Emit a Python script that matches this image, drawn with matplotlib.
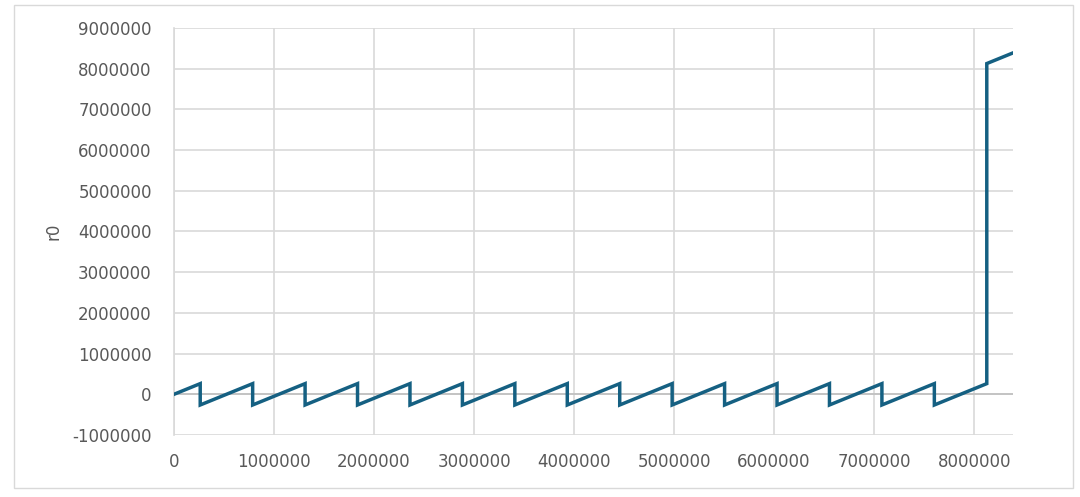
import matplotlib
matplotlib.use('Agg')
import matplotlib.pyplot as plt
from matplotlib.patches import Rectangle

# breakpoints of the r0 curve (x, r0)
x_vals = [0, 262144, 262144, 786432, 786432, 1310720, 1310720, 1835008, 1835008,
          2359296, 2359296, 2883584, 2883584, 3407872, 3407872, 3932160, 3932160,
          4456448, 4456448, 4980736, 4980736, 5505024, 5505024, 6029312, 6029312,
          6553600, 6553600, 7077888, 7077888, 7602176, 7602176, 8126464, 8126464,
          8388608]
r0_vals = [0, 262144, -262144, 262144, -262144, 262144, -262144, 262144, -262144,
           262144, -262144, 262144, -262144, 262144, -262144, 262144, -262144,
           262144, -262144, 262144, -262144, 262144, -262144, 262144, -262144,
           262144, -262144, 262144, -262144, 262144, -262144, 262144, 8126464,
           8388608]

x_ticks = list(range(0, 8000001, 1000000))
y_ticks = list(range(-1000000, 9000001, 1000000))

line_color = '#156082'
grid_color = '#D9D9D9'
text_color = '#595959'

plt.rcParams['font.family'] = ['DejaVu Sans']

fig = plt.figure(figsize=(10.8, 4.97), dpi=100)
fig.patches.append(Rectangle((14 / 1080, 1 - 488 / 497), 1059 / 1080, 483 / 497,
                             transform=fig.transFigure, fill=False,
                             edgecolor=grid_color, linewidth=1))
ax = fig.add_axes([174 / 1080, 1 - 435 / 497, 839 / 1080, 407 / 497])

ax.plot(x_vals, r0_vals, color=line_color, linewidth=2.5, solid_joinstyle='miter', zorder=3)
ax.axhline(0, color='#BFBFBF', linewidth=1.2, zorder=2)

ax.set_xlim(0, 8388608)
ax.set_ylim(-1000000, 9000000)
ax.set_xticks(x_ticks)
ax.set_yticks(y_ticks)
ax.set_xticklabels([str(v) for v in x_ticks])
ax.set_yticklabels([str(v) for v in y_ticks])
ax.tick_params(length=0, labelsize=12, colors=text_color)
ax.tick_params(axis='x', pad=13)
ax.tick_params(axis='y', pad=16)
ax.grid(True, color=grid_color, linewidth=1.2, zorder=1)
ax.set_axisbelow(True)
for side in ['top', 'right', 'bottom']:
    ax.spines[side].set_visible(False)
ax.spines['left'].set_color(grid_color)
ax.spines['left'].set_linewidth(1.2)
ax.set_ylabel('r0', fontsize=12, color=text_color, labelpad=7)

fig.savefig('out.png', dpi=100)
